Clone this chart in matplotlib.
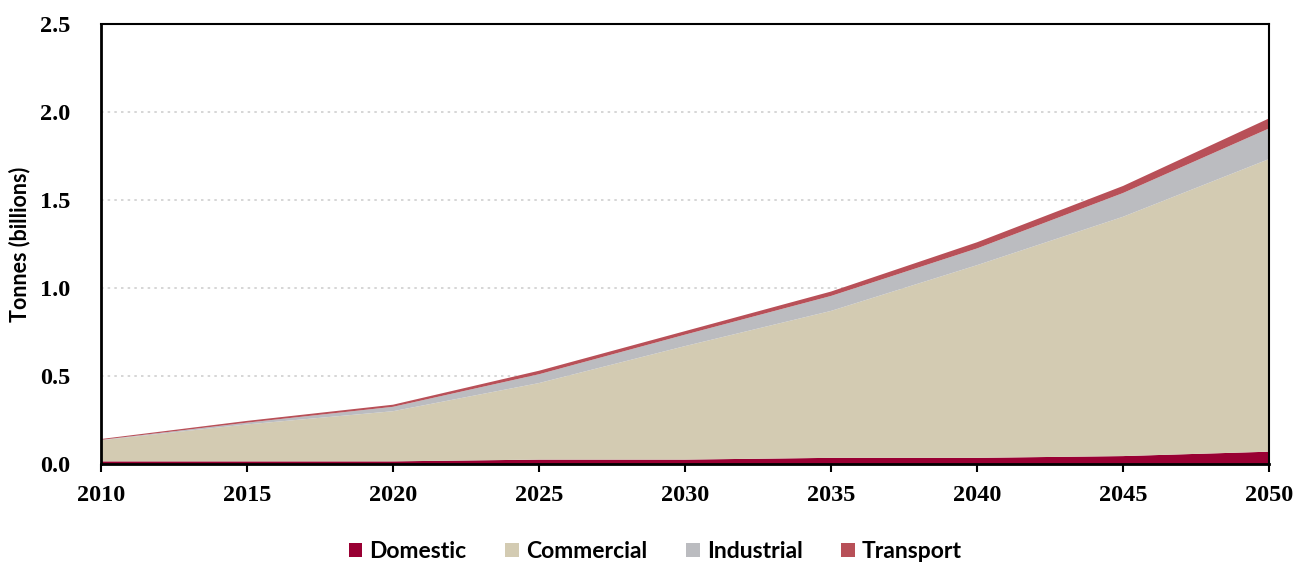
import matplotlib
matplotlib.use("Agg")
import matplotlib.pyplot as plt
from matplotlib.patches import Patch

years = [2010, 2015, 2020, 2025, 2030, 2035, 2040, 2045, 2050]
domestic = [0.015, 0.015, 0.015, 0.025, 0.025, 0.035, 0.035, 0.045, 0.070]
commercial = [0.120, 0.210, 0.285, 0.435, 0.645, 0.835, 1.095, 1.360, 1.663]
industrial = [0.002, 0.010, 0.025, 0.050, 0.065, 0.085, 0.095, 0.135, 0.174]
transport = [0.005, 0.010, 0.012, 0.020, 0.020, 0.025, 0.035, 0.040, 0.057]
series_names = ["Domestic", "Commercial", "Industrial", "Transport"]
colors = ["#990033", "#D3CBB2", "#BBBCC0", "#B85058"]
y_ticks = [0.0, 0.5, 1.0, 1.5, 2.0, 2.5]

fig = plt.figure(figsize=(13.08, 5.64), dpi=100)
ax = fig.add_axes([0.0772, 0.1773, 0.893, 0.78])

ax.stackplot(years, domestic, commercial, industrial, transport,
             colors=colors, linewidth=0)

ax.set_xlim(2010, 2050)
ax.set_ylim(0, 2.5)
ax.set_xticks(years)
ax.set_yticks(y_ticks)
ax.set_yticklabels([f"{v:.1f}" for v in y_ticks])
for lab in ax.get_xticklabels() + ax.get_yticklabels():
    lab.set_fontfamily("Liberation Serif")
    lab.set_fontweight("bold")
    lab.set_fontsize(17.5)
ax.tick_params(axis="y", length=0, pad=22)
ax.tick_params(axis="x", length=6, width=1.5, direction="out", pad=9)

for v in y_ticks[1:-1]:
    ax.axhline(v, color="#d0d0d0", linestyle=(0, (1.5, 2.5)), linewidth=1.2, zorder=0)

for s in ["left", "bottom"]:
    ax.spines[s].set_linewidth(2)
for s in ["top", "right"]:
    ax.spines[s].set_linewidth(1.5)
ax.set_axisbelow(True)

ax.yaxis.set_label_coords(-0.0695, 0.5)
ax.set_ylabel("Tonnes (billions)", fontfamily="Lato", fontweight="bold",
              fontsize=15.5, va="center")

handles = [Patch(facecolor=c, edgecolor="none") for c in colors]
fig.legend(handles, series_names, loc="lower center", ncol=4,
           bbox_to_anchor=(0.501, -0.033), frameon=False,
           prop=dict(family="Lato", weight="bold", size=16.5),
           handlelength=0.6, handleheight=0.6, handletextpad=0.3, columnspacing=1.7)

fig.savefig("out.png", dpi=100)
